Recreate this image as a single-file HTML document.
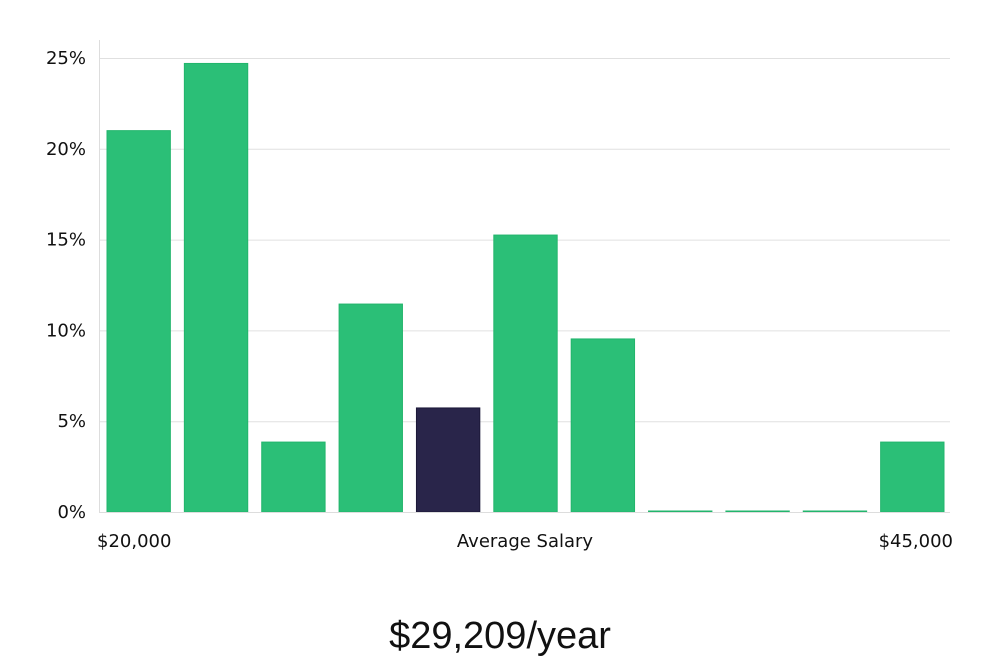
<!DOCTYPE html>
<html><head><meta charset="utf-8"><style>
body{margin:0;background:#fff;width:1000px;height:660px;overflow:hidden;font-family:"DejaVu Sans","Liberation Sans",sans-serif;}
svg text{font-family:"DejaVu Sans","Liberation Sans",sans-serif;}
</style></head><body>
<svg id="chart" width="1000" height="660" xmlns="http://www.w3.org/2000/svg">
<g id="grid"></g>
<g id="yticks"></g>
<line x1="99.5" y1="40" x2="99.5" y2="512" stroke="#ddd"/>
<g id="bars"></g>
<line x1="99" y1="512.5" x2="950" y2="512.5" stroke="#ddd"/>
<text x="97" y="547" font-size="18" fill="#111">$20,000</text>
<text x="525" y="547" font-size="18" fill="#111" text-anchor="middle">Average Salary</text>
<text x="953" y="547" font-size="18" fill="#111" text-anchor="end">$45,000</text>
<text x="500" y="648" font-size="38" fill="#111" text-anchor="middle" font-family="Liberation Sans, sans-serif" style="font-family:'Liberation Sans',sans-serif">$29,209/year</text>
</svg>
<script>
const values=[21,24.7,3.85,11.45,5.73,15.25,9.53,0,0,0,3.85];
const highlight=[false,false,false,false,true,false,false,false,false,false,false];
const yTicks=[0,5,10,15,20,25];
const yTickLabels=["0%","5%","10%","15%","20%","25%"];
const NS="http://www.w3.org/2000/svg";
const x0=99,x1=950,y0=512,pxPer=90.8/5;
const y=v=>y0-v*pxPer;
const step=(x1-x0)/values.length;
const grid=document.getElementById('grid'),yt=document.getElementById('yticks'),bars=document.getElementById('bars');
yTicks.forEach((t,i)=>{
 if(t>0){const l=document.createElementNS(NS,'line');
 
 
 l.setAttribute('x1',x0);l.setAttribute('x2',x1);l.setAttribute('y1',y(t)+.5);l.setAttribute('y2',y(t)+.5);l.setAttribute('stroke','#e0e0e0');grid.appendChild(l);}
 const tx=document.createElementNS(NS,'text');
 
 
 tx.setAttribute('x',86);tx.setAttribute('y',y(t)+6);tx.setAttribute('text-anchor','end');tx.setAttribute('font-size','18');tx.setAttribute('fill','#111');
 tx.textContent=yTickLabels[i];yt.appendChild(tx);
});
values.forEach((v,i)=>{
 const r=document.createElementNS(NS,'rect');
 
 
 const h=Math.max(v*pxPer,1);
 r.setAttribute('x',x0+i*step+8);r.setAttribute('width',step-14);
 r.setAttribute('y',y0-h);r.setAttribute('height',h);
 r.setAttribute('fill',highlight[i]?'#29254a':'#2bbf77');
 r.setAttribute('stroke',highlight[i]?'#1c1838':'#22b56c');r.setAttribute('stroke-width','1');
 bars.appendChild(r);
});
</script>
</body></html>
